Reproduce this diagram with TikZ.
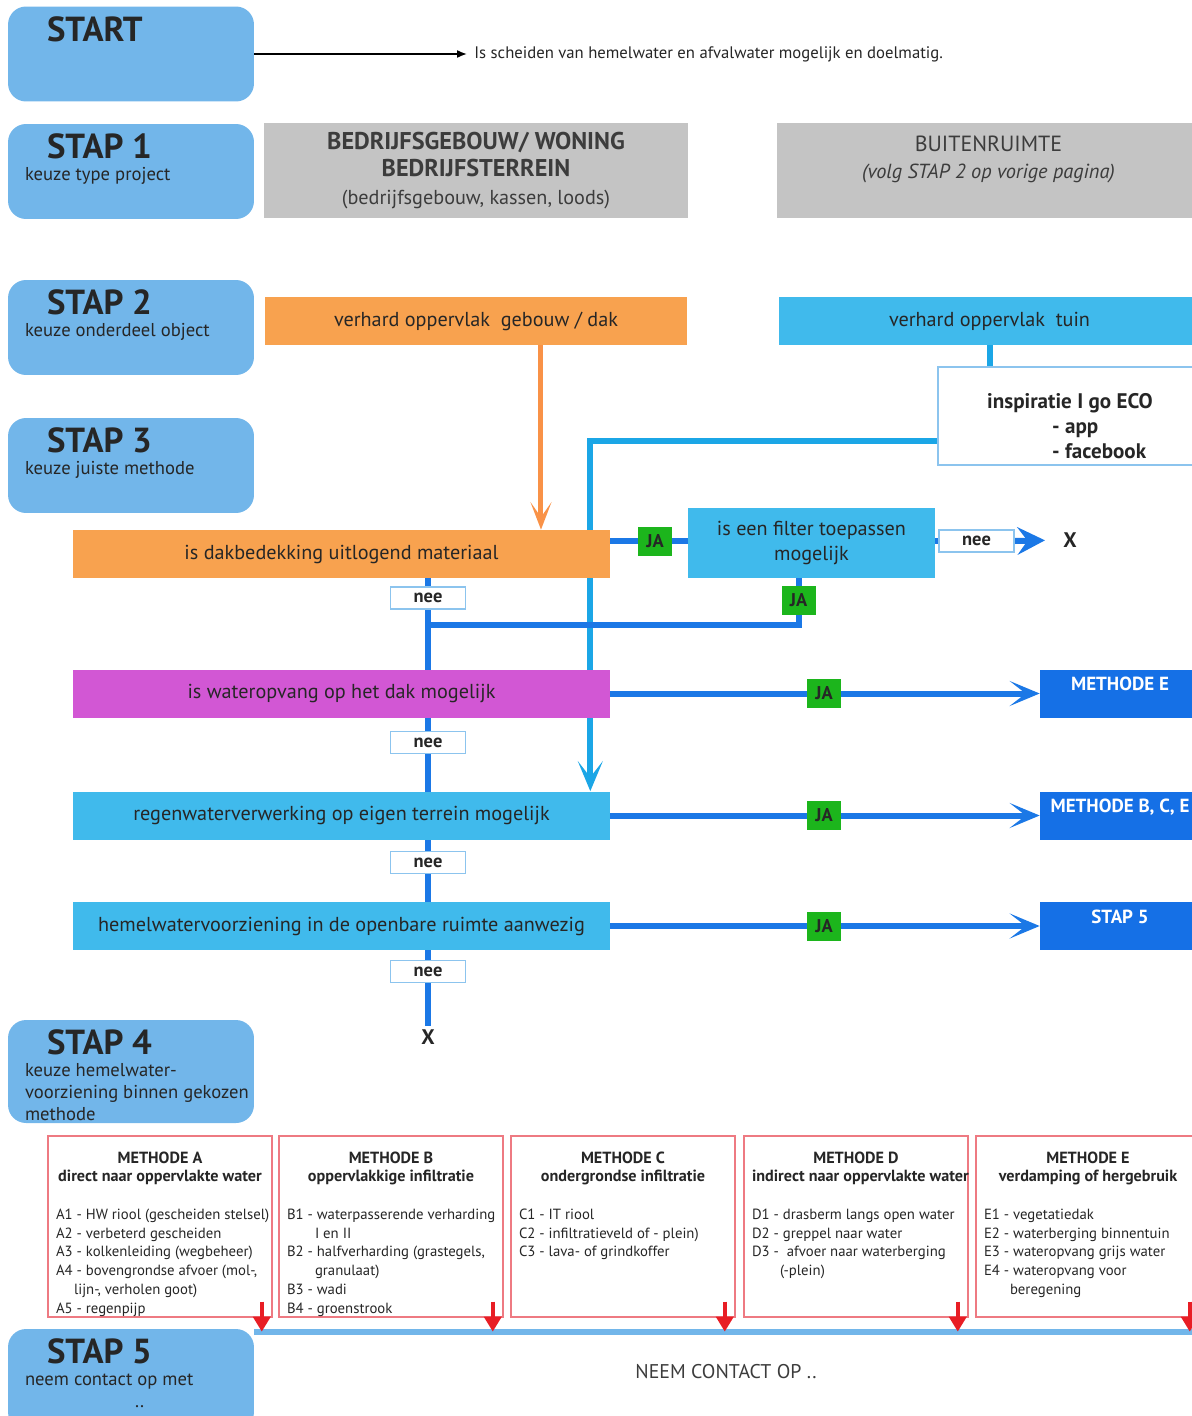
\documentclass[tikz,border=0pt]{standalone}
\usepackage{fontspec}
\setmainfont{PT Sans}
\usepackage{tikz}
\usetikzlibrary{arrows.meta, positioning, backgrounds}

\definecolor{stepblue}{HTML}{72B6EA}
\definecolor{boxgray}{HTML}{C4C4C4}
\definecolor{rooforange}{HTML}{F8A24F}
\definecolor{skyblue}{HTML}{40BAEC}
\definecolor{roofmagenta}{HTML}{D257D4}
\definecolor{deepblue}{HTML}{1570E6}
\definecolor{flowblue}{HTML}{1B78E6}
\definecolor{flowcyan}{HTML}{1BA6E6}
\definecolor{jagreen}{HTML}{1CB51C}
\definecolor{arrowred}{HTML}{E81E25}
\definecolor{framered}{HTML}{EE7A82}
\definecolor{inkdark}{HTML}{262626}
\definecolor{inkgray}{HTML}{3C3C3C}
\definecolor{neeblue}{HTML}{8CC4EE}

\newcommand{\steptitle}[1]{{\fontsize{19.8}{22}\selectfont\bfseries\hspace*{0.44cm}#1}}

\begin{document}
\begin{tikzpicture}[x=0.02cm, y=-0.02cm, text=inkdark,
    stepbox/.style={rectangle, rounded corners=0.36cm, fill=stepblue, minimum width=4.92cm, minimum height=1.9cm, inner sep=0pt},
    steptext/.style={anchor=north west, inner sep=0pt, align=left, font=\fontsize{10.6}{12.5}\selectfont},
    graybox/.style={rectangle, fill=boxgray, minimum height=1.9cm, align=center, text=inkgray, font=\fontsize{12.5}{15.5}\selectfont},
    flatbox/.style={rectangle, minimum height=0.96cm, inner sep=1pt, align=center, font=\fontsize{11.5}{14}\selectfont},
    inspbox/.style={rectangle, draw=neeblue, line width=1pt, fill=white, minimum width=5.24cm, minimum height=1.96cm},
    nee/.style={rectangle, draw=neeblue, line width=1pt, fill=white, minimum width=1.5cm, minimum height=0.44cm, inner sep=0pt, font=\fontsize{10.5}{12}\selectfont\bfseries},
    ja/.style={rectangle, fill=jagreen, minimum width=0.68cm, minimum height=0.58cm, inner sep=0pt, font=\fontsize{10.5}{12}\selectfont\bfseries},
    xmark/.style={inner sep=0.06cm, font=\fontsize{12}{14}\selectfont\bfseries},
    target/.style={rectangle, fill=deepblue, text=white, minimum width=3.2cm, inner ysep=0pt, text height=0.42cm, text depth=0.54cm, font=\fontsize{10.8}{12}\selectfont\bfseries},
    methode/.style={rectangle, draw=framered, line width=0.9pt, fill=white, anchor=north, inner xsep=0.16cm, inner ysep=0.32cm, font=\fontsize{8.4}{10.7}\selectfont},
    flow/.style={line width=0.12cm, draw=flowblue},
    flowarrow/.style={flow, -{Stealth[length=0.6cm, width=0.5cm, inset=0.32cm]}},
    cyanflow/.style={line width=0.12cm, draw=flowcyan},
    orangeflow/.style={line width=0.1cm, draw=rooforange!90!red, -{Stealth[length=0.55cm, width=0.42cm, inset=0.3cm]}},
    redarrow/.style={line width=0.08cm, draw=arrowred, -{Triangle[length=0.3cm, width=0.34cm]}},
    thinarrow/.style={line width=0.9pt, draw=black, -{Latex[length=0.2cm, width=0.16cm]}}]

    \useasboundingbox (0,0) rectangle (1192,1416);
    \clip (0,0) rectangle (1192,1416);

    % steps on the left
    \node[stepbox] (start) at (131,54) {};
    \node[stepbox] (stap1) at (131,171.5) {};
    \node[stepbox] (stap2) at (131,327.5) {};
    \node[stepbox] (stap3) at (131,465.5) {};
    \node[stepbox, minimum height=2.06cm] (stap4) at (131,1071.5) {};
    \node[stepbox, minimum height=2.02cm] (stap5) at (131,1379.5) {};

    \node[steptext] (start-t) at ([shift={(17,10)}]start.north west) {\steptitle{START}};
    \node[steptext] (stap1-t) at ([shift={(17,10)}]stap1.north west) {\steptitle{STAP 1}\\ keuze type project};
    \node[steptext] (stap2-t) at ([shift={(17,10)}]stap2.north west) {\steptitle{STAP 2}\\ keuze onderdeel object};
    \node[steptext] (stap3-t) at ([shift={(17,10)}]stap3.north west) {\steptitle{STAP 3}\\ keuze juiste methode};
    \node[steptext] (stap4-t) at ([shift={(17,10)}]stap4.north west) {\steptitle{STAP 4}\\ keuze hemelwater-\\ voorziening binnen gekozen\\ methode};
    \node[steptext] (stap5-t) at ([shift={(17,10)}]stap5.north west) {\steptitle{STAP 5}\\ neem contact op met\\ \hspace*{2.2cm}..};

    \node[anchor=west, inner xsep=0.14cm, font=\fontsize{9.5}{11}\selectfont] (question) at (467,54) {Is scheiden van hemelwater en afvalwater mogelijk en doelmatig.};

    % stap 1
    \node[graybox, minimum width=8.48cm] (bedrijf) at (476,170.5) {\fontsize{13.8}{15.5}\selectfont\bfseries BEDRIJFSGEBOUW/ WONING\\ \fontsize{13.8}{15.5}\selectfont\bfseries BEDRIJFSTERREIN\\ \fontsize{11.5}{14}\selectfont (bedrijfsgebouw, kassen, loods)};
    \node[graybox, minimum width=8.46cm] (buiten) at (988.5,170.5) {BUITENRUIMTE\\ \fontsize{11.6}{14}\selectfont\itshape (volg STAP 2 op vorige pagina)\\ \mbox{}};

    % stap 2
    \node[flatbox, fill=rooforange, minimum width=8.44cm] (roof) at (476,321) {verhard oppervlak\ \ gebouw / dak};
    \node[flatbox, fill=skyblue, minimum width=8.42cm] (tuin) at (989.5,321) {verhard oppervlak\ \ tuin};
    \node[inspbox] (insp) at (1069,416) {};
    \node[align=left, inner sep=0pt, font=\fontsize{12}{14.2}\selectfont\bfseries] (insp-t) at (1070,426) {inspiratie I go ECO\\ \hspace*{1.3cm}- app\\ \hspace*{1.3cm}- facebook};

    % stap 3
    \node[flatbox, fill=rooforange, minimum width=10.74cm] (dak) at (341.5,554) {is dakbedekking uitlogend materiaal};
    \node[flatbox, fill=skyblue, minimum width=4.94cm, minimum height=1.4cm] (filter) at (811.5,543) {is een filter toepassen\\ mogelijk};
    \node[flatbox, fill=roofmagenta, minimum width=10.74cm] (wat) at (341.5,693.5) {is wateropvang op het dak mogelijk};
    \node[flatbox, fill=skyblue, minimum width=10.74cm] (regen) at (341.5,815.5) {regenwaterverwerking op eigen terrein mogelijk};
    \node[flatbox, fill=skyblue, minimum width=10.74cm] (hemel) at (341.5,926) {hemelwatervoorziening in de openbare ruimte aanwezig};

    \node[nee] (nee0) at (976.5,541) {nee};
    \node[nee] (nee1) at (428,598) {nee};
    \node[nee] (nee2) at (428,742.5) {nee};
    \node[nee] (nee3) at (428,862.5) {nee};
    \node[nee] (nee4) at (428,971.5) {nee};
    \node[xmark] (xfilter) at (1070,540) {X};
    \node[xmark] (xend) at (428,1037) {X};

    \node[ja] (ja1) at (655,541) {JA};
    \node[ja] (ja2) at (798.5,600.5) {JA};
    \node[ja] (ja3) at (824,693.5) {JA};
    \node[ja] (ja4) at (824,815.5) {JA};
    \node[ja] (ja5) at (824,926) {JA};
    \coordinate (merge) at (428,625);

    \node[target] (mE) at (1120,693.5) {METHODE E};
    \node[target] (mBCE) at (1120,815.5) {METHODE B, C, E};
    \node[target] (s5t) at (1120,926) {STAP 5};

    % stap 4
    \node[methode] (mA) at (160,1135) {\parbox[t][2.98cm][t]{4.16cm}{\centering\bfseries\fontsize{9.2}{10.4}\selectfont METHODE A\\ \mbox{direct naar oppervlakte water}\par\vspace{10.7pt}\raggedright\mdseries\fontsize{8.4}{10.7}\selectfont
        \begin{tabular}[t]{@{}l@{}}A1 - HW riool (gescheiden stelsel)\\ A2 - verbeterd gescheiden\\ A3 - kolkenleiding (wegbeheer)\\ A4 - bovengrondse afvoer (mol-,\\ \hspace*{0.36cm}lijn-, verholen goot)\\ A5 - regenpijp\end{tabular}}};
    \node[methode] (mB) at (391,1135) {\parbox[t][2.98cm][t]{4.16cm}{\centering\bfseries\fontsize{9.2}{10.4}\selectfont METHODE B\\ \mbox{oppervlakkige infiltratie}\par\vspace{10.7pt}\raggedright\mdseries\fontsize{8.4}{10.7}\selectfont
        \begin{tabular}[t]{@{}l@{}}B1 - waterpasserende verharding\\ \hspace*{0.56cm}I en II\\ B2 - halfverharding (grastegels,\\ \hspace*{0.56cm}granulaat)\\ B3 - wadi\\ B4 - groenstrook\end{tabular}}};
    \node[methode] (mC) at (623,1135) {\parbox[t][2.98cm][t]{4.16cm}{\centering\bfseries\fontsize{9.2}{10.4}\selectfont METHODE C\\ \mbox{ondergrondse infiltratie}\par\vspace{10.7pt}\raggedright\mdseries\fontsize{8.4}{10.7}\selectfont
        \begin{tabular}[t]{@{}l@{}}C1 - IT riool\\ C2 - infiltratieveld of - plein)\\ C3 - lava- of grindkoffer\end{tabular}}};
    \node[methode] (mD) at (856,1135) {\parbox[t][2.98cm][t]{4.16cm}{\centering\bfseries\fontsize{9.2}{10.4}\selectfont METHODE D\\ \mbox{indirect naar oppervlakte water}\par\vspace{10.7pt}\raggedright\mdseries\fontsize{8.4}{10.7}\selectfont
        \begin{tabular}[t]{@{}l@{}}D1 - drasberm langs open water\\ D2 - greppel naar water\\ D3 -\ \ afvoer naar waterberging\\ \hspace*{0.56cm}(-plein)\end{tabular}}};
    \node[methode] (mEbox) at (1088,1135) {\parbox[t][2.98cm][t]{4.16cm}{\centering\bfseries\fontsize{9.2}{10.4}\selectfont METHODE E\\ \mbox{verdamping of hergebruik}\par\vspace{10.7pt}\raggedright\mdseries\fontsize{8.4}{10.7}\selectfont
        \begin{tabular}[t]{@{}l@{}}E1 - vegetatiedak\\ E2 - waterberging binnentuin\\ E3 - wateropvang grijs water\\ E4 - wateropvang voor\\ \hspace*{0.52cm}beregening\end{tabular}}};

    % stap 5
    \node[rectangle, fill=white, minimum width=18.86cm, minimum height=1.6cm, text=inkgray, font=\fontsize{11.3}{13}\selectfont] (contact) at (726,1372) {NEEM CONTACT OP ..};
    \draw[line width=0.12cm, stepblue] (contact.north west) -- (contact.north east);

    \begin{scope}[on background layer]
        \draw[thinarrow] (start.east) -- (question.west);
        \draw[orangeflow] ([xshift=1.3cm]roof.south) -- ([xshift=1.3cm]roof.south |- dak.north);
        \draw[cyanflow] (tuin.south) -- (tuin.south |- insp.north);
        \draw[cyanflow, -{Stealth[length=0.6cm, width=0.5cm, inset=0.32cm]}] ([yshift=-0.5cm]insp.west) -| ([xshift=-0.4cm]regen.north east);
        \draw[flow] (dak.south -| nee1) -- (xend);
        \draw[flow] (dak.east |- ja1) -- (filter.west |- ja1);
        \draw[flow] (filter.south -| ja2) -- (ja2 |- merge) -- (merge);
        \draw[flow] (filter.east |- nee0) -- (nee0.west);
        \draw[flow, -{Stealth[length=0.55cm, width=0.55cm, inset=0.2cm]}, shorten >=0.3cm] (nee0.east) -- (xfilter.west);
        \draw[flowarrow] (wat.east) -- (wat.east -| mE.west);
        \draw[flowarrow] (regen.east) -- (regen.east -| mBCE.west);
        \draw[flowarrow] (hemel.east) -- (hemel.east -| s5t.west);
    \end{scope}

    \foreach \m in {mA, mB, mC, mD, mEbox}
        \draw[redarrow] ([xshift=-0.22cm, yshift=0.32cm]\m.south east) -- ([xshift=-0.22cm]\m.south east |- contact.north);
\end{tikzpicture}
\end{document}
